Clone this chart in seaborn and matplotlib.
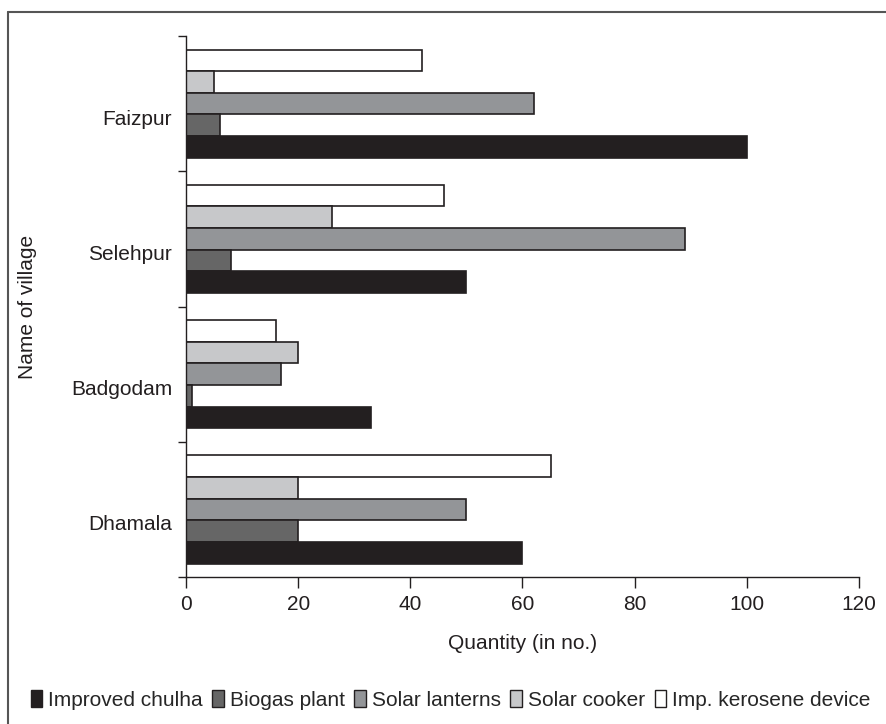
import numpy as np
import pandas as pd
import seaborn as sns
import matplotlib.pyplot as plt
from matplotlib.patches import Patch
from matplotlib.lines import Line2D

villages = ["Faizpur", "Selehpur", "Badgodam", "Dhamala"]
series = ["Improved chulha", "Biogas plant", "Solar lanterns", "Solar cooker", "Imp. kerosene device"]
chulha = [100, 50, 33, 60]
biogas = [6, 8, 1, 20]
lanterns = [62, 89, 17, 50]
cooker = [5, 26, 20, 20]
kerosene = [42, 46, 16, 65]
colors = ["#231f20", "#666666", "#939598", "#c7c8ca", "#ffffff"]

rows = []
for name, vals in zip(series, [chulha, biogas, lanterns, cooker, kerosene]):
    for v, q in zip(villages, vals):
        rows.append({"village": v, "device": name, "qty": q})
df = pd.DataFrame(rows)

sns.set_style("white")
plt.rcParams["font.family"] = ["Liberation Sans", "DejaVu Sans"]

fig = plt.figure(figsize=(8.87, 7.24), dpi=100)
ax = fig.add_axes([0.2097, 0.2030, 0.7587, 0.7473])

# top of each group is the kerosene bar, bottom is chulha
order_hue = series[::-1]
pal = dict(zip(series, colors))
sns.barplot(data=df, y="village", x="qty", hue="device", order=villages,
            hue_order=order_hue, palette=pal, width=0.8, ax=ax,
            edgecolor="#231f20", linewidth=1.2, legend=False, saturation=1)

ax.set_xlim(0, 120)
ax.set_ylim(3.5, -0.5)
ax.set_xticks(np.arange(0, 121, 20))
# village names sit a little below the middle of each group
ax.set_yticks(np.arange(len(villages)) + 0.1)
ax.set_yticklabels(villages)
ax.set_yticks(np.arange(-0.5, len(villages), 1), minor=True)
ax.tick_params(axis="x", direction="out", length=8, width=1, color="#231f20",
               labelsize=15, pad=5, bottom=True)
ax.tick_params(axis="y", which="major", length=0, labelsize=15, pad=10)
ax.tick_params(axis="y", which="minor", direction="out", length=6, width=1,
               color="#231f20", left=True)
for s in ["top", "right"]:
    ax.spines[s].set_visible(False)
for s in ["left", "bottom"]:
    ax.spines[s].set_color("#231f20")
    ax.spines[s].set_linewidth(1)

ax.set_xlabel("Quantity (in no.)", fontsize=15, color="#231f20")
ax.set_ylabel("Name of village", fontsize=15, color="#231f20")
ax.xaxis.set_label_coords(0.5, -0.105)
ax.yaxis.set_label_coords(-0.222, 0.5)
for t in ax.get_xticklabels() + ax.get_yticklabels():
    t.set_color("#231f20")

handles = [Patch(facecolor=c, edgecolor="#231f20", linewidth=1) for c in colors]
fig.legend(handles, series, loc="center", bbox_to_anchor=(0.508, 0.033), ncol=5,
           frameon=False, fontsize=15, handlelength=0.55, handleheight=0.9,
           handletextpad=0.3, columnspacing=0.45, borderaxespad=0)

# frame line along top and left of the figure
fig.add_artist(Line2D([8 / 887, 8 / 887], [0, 1 - 12 / 724], transform=fig.transFigure,
                      color="#555555", linewidth=1.5))
fig.add_artist(Line2D([8 / 887, 1], [1 - 12 / 724, 1 - 12 / 724], transform=fig.transFigure,
                      color="#555555", linewidth=1.5))

fig.savefig("out.png", dpi=100)
